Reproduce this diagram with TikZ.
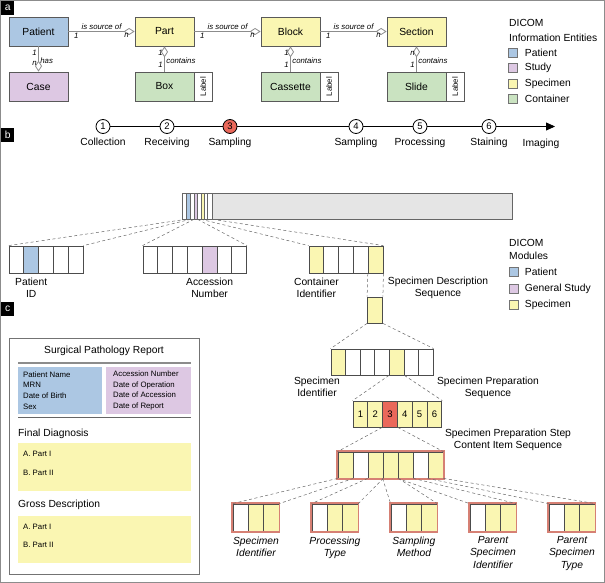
\documentclass[tikz,border=0pt]{standalone}
\usepackage{fontspec}
\setmainfont{Liberation Sans}
\usetikzlibrary{positioning,arrows.meta}

\definecolor{patblue}{RGB}{172,199,227}
\definecolor{studypurple}{RGB}{221,200,227}
\definecolor{specyellow}{RGB}{250,246,178}
\definecolor{contgreen}{RGB}{202,227,193}
\definecolor{stepred}{RGB}{234,104,90}
\definecolor{bargray}{RGB}{229,229,229}
\definecolor{ringred}{RGB}{214,128,116}
\definecolor{linegray}{RGB}{140,140,140}

\newcommand{\txtmain}{\fontsize{10.3}{12.2}\selectfont}
\newcommand{\txtsmall}{\fontsize{7.8}{10.7}\selectfont}

\begin{document}
\begin{tikzpicture}[x=1pt, y=-1pt, node distance=2pt,
    diamond_tip/.tip={Diamond[open, length=11pt, width=7pt]},
    entity_style/.style={rectangle, draw=black!65, line width=0.8pt, minimum width=59pt, minimum height=29pt, inner sep=0pt, font=\txtmain},
    tag_style/.style={rectangle, draw=black!65, line width=0.8pt, fill=white, minimum width=18pt, minimum height=29pt, inner sep=0pt, font=\txtsmall},
    rel_style/.style={draw=linegray, line width=0.8pt},
    rel_label/.style={font=\txtsmall\itshape, inner sep=1.5pt},
    key_style/.style={rectangle, draw=black!55, line width=0.5pt, minimum size=9pt, inner sep=0pt},
    key_text/.style={anchor=west, font=\txtmain, inner sep=0pt},
    panel_style/.style={fill=black, text=white, font=\txtmain, minimum width=13pt, minimum height=14pt, inner sep=0pt, anchor=north west},
    stage_style/.style={circle, draw=black, line width=0.8pt, fill=white, minimum size=14pt, inner sep=0pt, font=\fontsize{9.5}{10}\selectfont},
    stage_label/.style={font=\txtmain, inner sep=0pt},
    cell_style/.style={rectangle, draw=black!70, line width=0.8pt, minimum width=14.8pt, minimum height=27pt, inner sep=0pt},
    slice_style/.style={rectangle, draw=black!60, line width=0.6pt, minimum height=26pt, inner sep=0pt, anchor=west},
    dash_style/.style={draw=black!60, dash pattern=on 3pt off 2.5pt, line width=0.5pt},
    ring_style/.style={draw=ringred, line width=1.5pt},
    note_style/.style={font=\txtmain, align=center, inner sep=0pt}]

\useasboundingbox (0,0) rectangle (605,583);

% frame and panel tags
\draw[linegray, line width=0.8pt] (0.5,0.5) rectangle (604.5,582.5);
\node[panel_style] (tag_a) at (1,1) {a};
\node[panel_style] (tag_b) at (1,128) {b};
\node[panel_style] (tag_c) at (1,302) {c};

% (a) information entities
\node[entity_style, fill=patblue] (patient) at (38.5,31.5) {Patient};
\node[entity_style, fill=specyellow] (part) at (164.5,31.5) {Part};
\node[entity_style, fill=specyellow] (block) at (290.5,31.5) {Block};
\node[entity_style, fill=specyellow] (section) at (416.5,31.5) {Section};
\node[entity_style, fill=studypurple] (case) at (38.5,86.5) {Case};
\node[entity_style, fill=contgreen] (box) at (164.5,86.5) {Box};
\node[entity_style, fill=contgreen] (cassette) at (290.5,86.5) {Cassette};
\node[entity_style, fill=contgreen] (slide) at (416.5,86.5) {Slide};
\node[tag_style, right=-0.8pt of box] (box_tag) {\rotatebox{90}{Label}};
\node[tag_style, right=-0.8pt of cassette] (cassette_tag) {\rotatebox{90}{Label}};
\node[tag_style, right=-0.8pt of slide] (slide_tag) {\rotatebox{90}{Label}};

\draw[rel_style, -{diamond_tip}] (patient) -- node[rel_label, above]{is source of} node[rel_label, below, pos=0.12]{1} node[rel_label, below, pos=0.88]{n} (part);
\draw[rel_style, -{diamond_tip}] (part) -- node[rel_label, above]{is source of} node[rel_label, below, pos=0.12]{1} node[rel_label, below, pos=0.88]{n} (block);
\draw[rel_style, -{diamond_tip}] (block) -- node[rel_label, above]{is source of} node[rel_label, below, pos=0.12]{1} node[rel_label, below, pos=0.88]{n} (section);
\draw[rel_style, -{diamond_tip}] (patient) -- node[rel_label, left, pos=0.27]{1} node[rel_label, left, pos=0.66]{n} node[rel_label, right, pos=0.55]{has} (case);
\draw[rel_style, {diamond_tip}-] (part) -- node[rel_label, left, pos=0.27]{1} node[rel_label, left, pos=0.72]{1} node[rel_label, right, pos=0.58]{contains} (box);
\draw[rel_style, {diamond_tip}-] (block) -- node[rel_label, left, pos=0.27]{1} node[rel_label, left, pos=0.72]{1} node[rel_label, right, pos=0.58]{contains} (cassette);
\draw[rel_style, {diamond_tip}-] (section) -- node[rel_label, left, pos=0.27]{n} node[rel_label, left, pos=0.72]{1} node[rel_label, right, pos=0.58]{contains} (slide);

\node[key_text] (ie_title) at (509,23) {DICOM};
\node[key_text] (ie_sub) at (509,38) {Information Entities};
\node[key_style, fill=patblue] (ie_k1) at (512.5,52.5) {};
\node[key_style, fill=studypurple] (ie_k2) at (512.5,68) {};
\node[key_style, fill=specyellow] (ie_k3) at (512.5,83.5) {};
\node[key_style, fill=contgreen] (ie_k4) at (512.5,99) {};
\node[key_text, right=7.5pt of ie_k1] {Patient};
\node[key_text, right=7.5pt of ie_k2] {Study};
\node[key_text, right=7.5pt of ie_k3] {Specimen};
\node[key_text, right=7.5pt of ie_k4] {Container};

% (b) workflow steps
\node[stage_style] (s1) at (103,126.5) {1};
\node[stage_style] (s2) at (167,126.5) {2};
\node[stage_style, fill=stepred] (s3) at (230,126.5) {3};
\node[stage_style] (s4) at (356,126.5) {4};
\node[stage_style] (s5) at (420,126.5) {5};
\node[stage_style] (s6) at (489,126.5) {6};
\coordinate (s_end) at (555,126.5);
\draw[line width=0.8pt] (s1) -- (s2);
\draw[line width=0.8pt] (s2) -- (s3);
\draw[line width=0.8pt] (s3) -- (s4);
\draw[line width=0.8pt] (s4) -- (s5);
\draw[line width=0.8pt] (s5) -- (s6);
\draw[line width=0.8pt, -{Triangle[length=9pt, width=8pt]}] (s6) -- (s_end);
\node[stage_label, below=4pt of s1] {Collection};
\node[stage_label, below=4pt of s2] {Receiving};
\node[stage_label, below=4pt of s3] {Sampling};
\node[stage_label, below=4pt of s4] {Sampling};
\node[stage_label, below=4pt of s5] {Processing};
\node[stage_label, below=4pt of s6] {Staining};
\node[stage_label, anchor=north] (imaging) at (541,138.5) {Imaging};

% dataset bar
\foreach \x/\w/\c [count=\i] in {182/4/white,186/4/patblue,190/4/white,194/3/studypurple,197/4/white,201/3/specyellow,204/3/white,207/5/white,212/300/bargray}
  \node[slice_style, minimum width=\w pt, fill=\c] (bar\i) at (\x,206) {};

% modules
\foreach \c [count=\i] in {white,patblue,white,white,white}
  \node[cell_style, fill=\c] (pid\i) at ({16.4+(\i-1)*14.8},259.5) {};
\foreach \c [count=\i] in {white,white,white,white,studypurple,white,white}
  \node[cell_style, fill=\c] (acc\i) at ({150.4+(\i-1)*14.8},259.5) {};
\foreach \c [count=\i] in {specyellow,white,white,white,specyellow}
  \node[cell_style, fill=\c] (con\i) at ({316.4+(\i-1)*14.8},259.5) {};

\draw[dash_style] (bar2.south west) -- (pid1.north west);
\draw[dash_style] (bar2.south east) -- (pid5.north east);
\draw[dash_style] (bar4.south west) -- (acc1.north west);
\draw[dash_style] (bar4.south east) -- (acc7.north east);
\draw[dash_style] (bar6.south west) -- (con1.north west);
\draw[dash_style] (bar8.south east) -- (con5.north east);

\node[note_style, below=4pt of pid2] (pid_txt) {Patient\\ID};
\node[note_style, below=4pt of acc5] (acc_txt) {Accession\\Number};
\node[note_style, below=4pt of con1] (con_txt) {Container\\Identifier};
\node[note_style, anchor=north] (sds_txt) at (438,277) {Specimen Description\\Sequence};

\node[key_text] (mod_title) at (509,243) {DICOM};
\node[key_text] (mod_sub) at (509,256) {Modules};
\node[key_style, fill=patblue] (mod_k1) at (513.5,272) {};
\node[key_style, fill=studypurple] (mod_k2) at (513.5,288.5) {};
\node[key_style, fill=specyellow] (mod_k3) at (513.5,305) {};
\node[key_text, right=6.5pt of mod_k1] {Patient};
\node[key_text, right=6.5pt of mod_k2] {General Study};
\node[key_text, right=6.5pt of mod_k3] {Specimen};

% specimen description sequence
\node[cell_style, fill=specyellow, minimum width=15pt, minimum height=26pt] (sds) at (375,310) {};
\draw[dash_style] (con5.south west) -- (sds.north west);
\draw[dash_style] (con5.south east) -- (sds.north east);

\foreach \c [count=\i] in {specyellow,white,white,white,specyellow,white,white}
  \node[cell_style, fill=\c, minimum width=14.6pt, minimum height=26pt] (sd\i) at ({338.3+(\i-1)*14.6},362) {};
\draw[dash_style] (sds.south west) -- (sd1.north west);
\draw[dash_style] (sds.south east) -- (sd7.north east);
\node[note_style, anchor=north] (sd_id_txt) at (317,377) {Specimen\\Identifier};
\node[note_style, anchor=north] (sd_prep_txt) at (488,377) {Specimen Preparation\\Sequence};

\foreach \c [count=\i] in {specyellow,specyellow,stepred,specyellow,specyellow,specyellow}
  \node[cell_style, fill=\c, minimum height=26pt, font=\fontsize{9.5}{10}\selectfont] (sp\i) at ({360.4+(\i-1)*14.8},414) {\i};
\draw[dash_style] (sd5.south west) -- (sp1.north west);
\draw[dash_style] (sd5.south east) -- (sp6.north east);
\node[note_style, anchor=north] (sp_txt) at (508,429) {Specimen Preparation Step\\Content Item Sequence};

\foreach \c [count=\i] in {specyellow,white,specyellow,specyellow,specyellow,white,specyellow}
  \node[cell_style, fill=\c, minimum width=15pt, minimum height=26pt] (ci\i) at ({345.5+(\i-1)*15},465) {};
\draw[ring_style] ([shift={(-0.4,-0.4)}]ci1.north west) rectangle ([shift={(0.4,0.4)}]ci7.south east);
\draw[dash_style] (sp3.south west) -- (ci1.north west);
\draw[dash_style] (sp3.south east) -- (ci7.north east);

% content items
\foreach \m/\x in {1/233,2/312,3/391,4/470,5/549} {
  \foreach \c [count=\j] in {white,specyellow,specyellow}
    \node[cell_style, fill=\c, minimum width=15.3pt] (m\m c\j) at ({\x+7.65+(\j-1)*15.3},517.5) {};
  \draw[ring_style] ([shift={(-0.4,-0.4)}]m\m c1.north west) rectangle ([shift={(0.4,0.4)}]m\m c3.south east);
}
\foreach \m/\k in {1/1,2/3,3/4,4/5,5/7} {
  \draw[dash_style] (ci\k.south west) -- (m\m c1.north west);
  \draw[dash_style] (ci\k.south east) -- (m\m c3.north east);
}
\node[note_style, font=\txtmain\itshape, below=5pt of m1c2] (m1_txt) {Specimen\\Identifier};
\node[note_style, font=\txtmain\itshape, below=5pt of m2c2] (m2_txt) {Processing\\Type};
\node[note_style, font=\txtmain\itshape, below=5pt of m3c2] (m3_txt) {Sampling\\Method};
\node[note_style, font=\txtmain\itshape, below=5pt of m4c2] (m4_txt) {Parent\\Specimen\\Identifier};
\node[note_style, font=\txtmain\itshape, below=5pt of m5c2] (m5_txt) {Parent\\Specimen\\Type};

% (c) report
\draw[draw=black!55, line width=0.8pt] (9,338) rectangle (199,574);
\node[font=\txtmain] (rep_title) at (104,351) {Surgical Pathology Report};
\draw[draw=black!45, line width=1.2pt] (18,363) -- (191,363);
\fill[patblue] (18,367) rectangle (102,414);
\fill[studypurple] (106,367) rectangle (191,414);
\draw[draw=black!60, line width=1.2pt] (18,417.5) -- (191,417.5);
\node[anchor=west, align=left, font=\txtsmall, inner sep=0pt] (rep_pat) at (23,390.5) {Patient Name\\MRN\\Date of Birth\\Sex};
\node[anchor=west, align=left, font=\txtsmall, inner sep=0pt] (rep_acc) at (113,390.5) {Accession Number\\Date of Operation\\Date of Accession\\Date of Report};
\node[anchor=west, font=\txtmain, inner sep=0pt] (rep_fd) at (18,434) {Final Diagnosis};
\fill[specyellow] (18,443) rectangle (191,491);
\node[anchor=west, font=\txtsmall, inner sep=0pt] (rep_fd_a) at (23,454) {A. Part I};
\node[anchor=west, font=\txtsmall, inner sep=0pt] (rep_fd_b) at (23,473) {B. Part II};
\node[anchor=west, font=\txtmain, inner sep=0pt] (rep_gd) at (18,505) {Gross Description};
\fill[specyellow] (18,516) rectangle (191,563);
\node[anchor=west, font=\txtsmall, inner sep=0pt] (rep_gd_a) at (23,527) {A. Part I};
\node[anchor=west, font=\txtsmall, inner sep=0pt] (rep_gd_b) at (23,545) {B. Part II};
\end{tikzpicture}
\end{document}
